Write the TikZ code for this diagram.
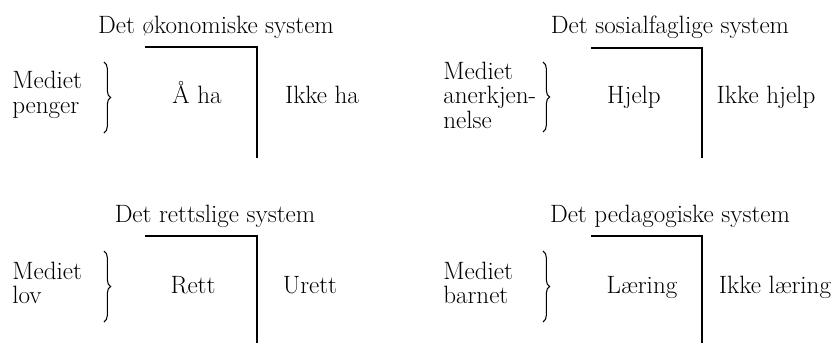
\documentclass[tikz,border=0pt]{standalone}
\usetikzlibrary{positioning,decorations.pathreplacing}

\begin{document}
\begin{tikzpicture}[x=0.75pt,y=-0.75pt,
    every node/.style={font=\fontsize{18.8}{18.4}\selectfont,inner sep=0pt},
    tittel/.style={anchor=base},
    verdi/.style={anchor=base},
    medium/.style={anchor=west,align=left},
    skille/.style={line width=1.5pt},
    klamme/.style={decorate,decoration={brace,amplitude=5pt},line width=0.8pt}]

    \useasboundingbox (0,0) rectangle (835,343);

    % økonomi
    \node[tittel] (oko-tittel) at (216,33) {Det økonomiske system};
    \coordinate (oko-a) at (145,47);
    \coordinate (oko-c) at (257,47);
    \coordinate (oko-b) at (257,158);
    \draw[skille] (oko-a) -- (oko-c) -- (oko-b);
    \node[medium] (oko-medium) at (12,95) {Mediet\\penger};
    \coordinate (oko-k1) at (104,62);
    \coordinate (oko-k2) at (104,133);
    \draw[klamme] (oko-k1) -- (oko-k2);
    \node[verdi] (oko-ja) at (197,103) {Å ha};
    \node[verdi] (oko-nei) at (322,103) {Ikke ha};

    % sosialfag
    \node[tittel] (sos-tittel) at (670,33) {Det sosialfaglige system};
    \coordinate (sos-a) at (591,48);
    \coordinate (sos-c) at (702,48);
    \coordinate (sos-b) at (702,158);
    \draw[skille] (sos-a) -- (sos-c) -- (sos-b);
    \node[medium] (sos-medium) at (443,95) {Mediet\\anerkjen-\\nelse};
    \coordinate (sos-k1) at (543,62);
    \coordinate (sos-k2) at (543,132);
    \draw[klamme] (sos-k1) -- (sos-k2);
    \node[verdi] (sos-ja) at (634,103) {Hjelp};
    \node[verdi] (sos-nei) at (766,103) {Ikke hjelp};

    % rett
    \node[tittel] (rett-tittel) at (215,222) {Det rettslige system};
    \coordinate (rett-a) at (145,236);
    \coordinate (rett-c) at (257,236);
    \coordinate (rett-b) at (257,343);
    \draw[skille] (rett-a) -- (rett-c) -- (rett-b);
    \node[medium] (rett-medium) at (12,283) {Mediet\\lov};
    \coordinate (rett-k1) at (104,251);
    \coordinate (rett-k2) at (104,322);
    \draw[klamme] (rett-k1) -- (rett-k2);
    \node[verdi] (rett-ja) at (193,293) {Rett};
    \node[verdi] (rett-nei) at (310,293) {Urett};

    % pedagogikk
    \node[tittel] (ped-tittel) at (670,222) {Det pedagogiske system};
    \coordinate (ped-a) at (591,236);
    \coordinate (ped-c) at (702,236);
    \coordinate (ped-b) at (702,343);
    \draw[skille] (ped-a) -- (ped-c) -- (ped-b);
    \node[medium] (ped-medium) at (443,283) {Mediet\\barnet};
    \coordinate (ped-k1) at (543,251);
    \coordinate (ped-k2) at (543,322);
    \draw[klamme] (ped-k1) -- (ped-k2);
    \node[verdi] (ped-ja) at (642,293) {Læring};
    \node[verdi] (ped-nei) at (775,293) {Ikke læring};

\end{tikzpicture}
\end{document}
